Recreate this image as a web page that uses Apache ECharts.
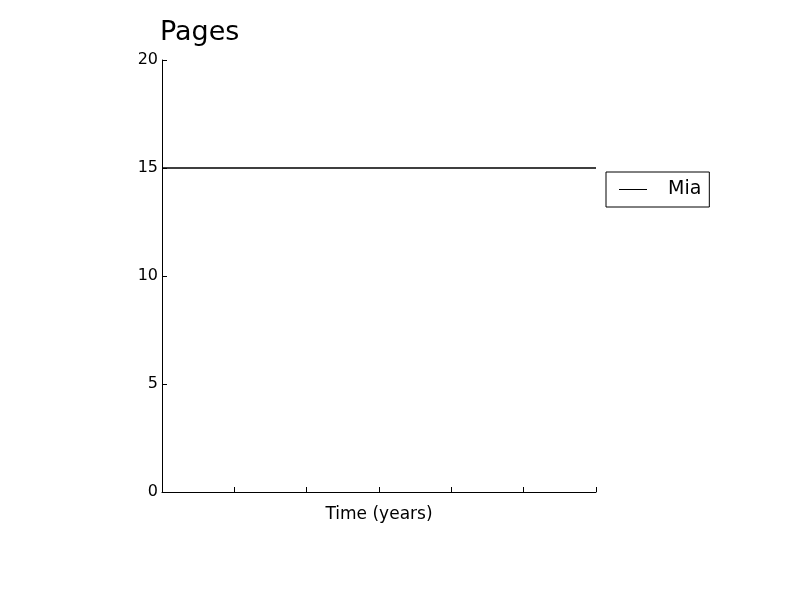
<!DOCTYPE html>
<html><head><meta charset="utf-8">
<script src="https://cdn.jsdelivr.net/npm/echarts@6/dist/echarts.min.js"></script>
<style>html,body{margin:0;padding:0;background:#fff}#c{width:800px;height:600px}</style>
</head><body><div id="c"></div>
<script>
const years = [0, 1, 2, 3, 4, 5, 6];
const miaPages = [15, 15, 15, 15, 15, 15, 15];
const yTicks = [0, 5, 10, 15, 20];

const chart = echarts.init(document.getElementById('c'));
const F = 'DejaVu Sans';
chart.setOption({
  animation: false,
  backgroundColor: '#fff',
  title: { text: 'Pages', left: 155, top: 14, textStyle: { fontFamily: F, fontSize: 27, fontWeight: 'normal', color: '#000' } },
  grid: { left: 162, right: 204, top: 60, bottom: 108 },
  legend: {
    data: ['Mia'], orient: 'vertical', left: 606, top: 172,
    padding: [8, 8, 8, 13], itemWidth: 28, itemHeight: 1, itemGap: 10,
    icon: 'rect',
    itemStyle: { color: '#000', borderWidth: 0 },
    borderColor: '#000', borderWidth: 1, borderRadius: 0,
    textStyle: { fontFamily: F, fontSize: 19, color: '#000', padding: [0, 0, 0, 16] }
  },
  xAxis: {
    type: 'value', min: 0, max: 6, interval: 1,
    name: 'Time (years)', nameLocation: 'middle', nameGap: 14,
    nameTextStyle: { fontFamily: F, fontSize: 17, color: '#000' },
    axisLine: { show: true, lineStyle: { color: '#000', width: 1 } },
    axisTick: { show: true, inside: true, length: 5, lineStyle: { color: '#000' } },
    axisLabel: { show: false },
    splitLine: { show: false }
  },
  yAxis: {
    type: 'value', min: 0, max: 20, interval: 5,
    axisLine: { show: true, lineStyle: { color: '#000', width: 1 } },
    axisTick: { show: true, inside: true, length: 5, lineStyle: { color: '#000' } },
    axisLabel: { fontFamily: F, fontSize: 16, color: '#000', margin: 4,
      formatter: v => yTicks.includes(v) ? String(v) : '' },
    splitLine: { show: false }
  },
  series: [{
    name: 'Mia', type: 'line', symbol: 'none',
    data: years.map((y, i) => [y, miaPages[i]]),
    lineStyle: { color: '#000', width: 1.5 }, itemStyle: { color: '#000' }
  }]
});
</script></body></html>
